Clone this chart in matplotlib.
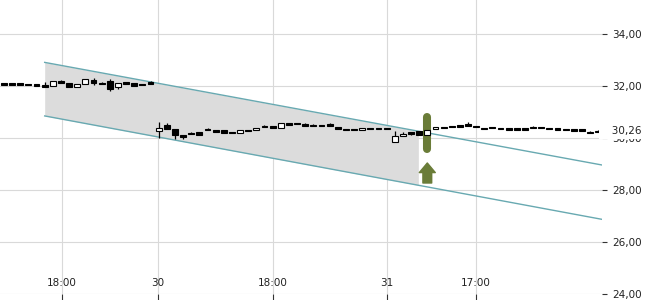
import numpy as np
import matplotlib
matplotlib.use('Agg')
import matplotlib.pyplot as plt

# candle data (one entry per candle, left to right)
opens = [32.08, 32.08, 32.08, 32.07, 32.07, 32.00, 32.00, 32.20, 32.10, 31.95, 32.08, 32.23, 32.10, 32.20, 31.95, 32.15, 32.10, 32.08, 32.14,
         30.26, 30.49, 30.33, 30.12, 30.18, 30.23, 30.33, 30.30, 30.30, 30.23, 30.18, 30.30, 30.30, 30.45, 30.45, 30.38, 30.54, 30.58, 30.53,
         30.49, 30.49, 30.53, 30.41, 30.33, 30.33, 30.30, 30.37, 30.37, 30.37,
         29.86, 30.07, 30.19, 30.26, 30.10, 30.33, 30.41, 30.45, 30.49, 30.53, 30.45, 30.38, 30.40, 30.40, 30.35, 30.35, 30.35, 30.40, 30.41,
         30.37, 30.35, 30.33, 30.33, 30.33, 30.22, 30.24]
closes = [32.08, 32.08, 32.06, 32.05, 32.02, 32.00, 32.18, 32.10, 31.95, 32.07, 32.26, 32.10, 32.10, 31.88, 32.10, 32.07, 32.00, 32.04, 32.06,
          30.38, 30.33, 30.10, 30.05, 30.18, 30.13, 30.33, 30.26, 30.18, 30.18, 30.30, 30.27, 30.38, 30.45, 30.38, 30.57, 30.54, 30.53, 30.45,
          30.49, 30.49, 30.45, 30.33, 30.33, 30.33, 30.37, 30.37, 30.37, 30.37,
          30.08, 30.17, 30.19, 30.10, 30.30, 30.41, 30.41, 30.45, 30.43, 30.45, 30.45, 30.37, 30.40, 30.35, 30.35, 30.35, 30.35, 30.40, 30.41,
          30.37, 30.35, 30.33, 30.29, 30.30, 30.22, 30.26]
highs = [32.08, 32.08, 32.08, 32.07, 32.07, 32.15, 32.18, 32.25, 32.10, 32.07, 32.26, 32.30, 32.16, 32.26, 32.10, 32.15, 32.10, 32.08, 32.18,
         30.62, 30.56, 30.33, 30.12, 30.22, 30.23, 30.37, 30.30, 30.30, 30.23, 30.30, 30.30, 30.38, 30.49, 30.45, 30.57, 30.58, 30.58, 30.58,
         30.53, 30.49, 30.57, 30.41, 30.33, 30.33, 30.37, 30.37, 30.37, 30.37,
         30.27, 30.23, 30.25, 30.26, 30.30, 30.41, 30.41, 30.45, 30.49, 30.60, 30.45, 30.40, 30.43, 30.40, 30.35, 30.35, 30.35, 30.45, 30.41,
         30.37, 30.35, 30.33, 30.33, 30.33, 30.27, 30.29]
lows = [32.08, 32.08, 32.06, 32.05, 32.02, 32.00, 32.00, 32.10, 31.95, 31.95, 32.08, 32.05, 32.10, 31.80, 31.90, 32.07, 32.00, 32.04, 32.06,
        30.00, 30.33, 29.97, 29.97, 30.18, 30.13, 30.33, 30.26, 30.18, 30.18, 30.18, 30.27, 30.30, 30.45, 30.38, 30.38, 30.54, 30.53, 30.45,
        30.49, 30.49, 30.45, 30.33, 30.33, 30.33, 30.30, 30.37, 30.37, 30.37,
        29.86, 30.07, 30.13, 30.10, 30.10, 30.33, 30.41, 30.45, 30.43, 30.45, 30.45, 30.37, 30.40, 30.35, 30.35, 30.35, 30.35, 30.40, 30.41,
        30.37, 30.35, 30.33, 30.29, 30.30, 30.22, 30.24]

# x axis labels (positions in candle index units)
tick_pos = [7.13, 18.92, 33.05, 47.05, 57.99]
tick_labels = ['18:00', '30', '18:00', '31', '17:00']

yticks = [24, 26, 28, 30, 32, 34]
last_price = 30.26

# trend channel
channel_x = [5.0, 73.5]
channel_upper = [32.91, 28.96]
channel_lower = [30.85, 26.87]
fill_end = 50.9

# signal
signal_idx = 52
signal_bar = [30.80, 29.58]
signal_arrow = [28.27, 29.04]

fig = plt.figure(figsize=(6.5, 3.0), dpi=100)
ax = fig.add_axes([0, 0.02, 602 / 650, 0.98])

x = np.arange(len(opens))
o = np.array(opens)
c = np.array(closes)

# channel fill + lines
fx = np.array([channel_x[0], fill_end])
ax.fill_between(fx, np.interp(fx, channel_x, channel_lower), np.interp(fx, channel_x, channel_upper),
                color='#dcdcdc', lw=0, zorder=1)
ax.plot(channel_x, channel_upper, color='#68a9b1', lw=1.0, zorder=2)
ax.plot(channel_x, channel_lower, color='#68a9b1', lw=1.0, zorder=2)

# green signal bar and arrow
ax.plot([signal_idx, signal_idx], signal_bar, color='#6a7c38', lw=5.8, solid_capstyle='round', zorder=3)
ax.annotate('', xy=(signal_idx, signal_arrow[1]), xytext=(signal_idx, signal_arrow[0]),
            arrowprops=dict(arrowstyle='simple,head_length=0.6,head_width=1.0,tail_width=0.55',
                            color='#6a7c38', shrinkA=0, shrinkB=0, mutation_scale=11.5), zorder=3)

# candles
ax.vlines(x, lows, highs, color='black', lw=0.9, zorder=4)
body_h = np.maximum(np.abs(c - o), 0.06)
body_b = np.where(np.abs(c - o) < 0.06, (o + c) / 2 - 0.03, np.minimum(o, c))
up = c > o + 0.001
ax.bar(x, body_h, width=0.72, bottom=body_b, color=np.where(up, 'white', 'black'),
       edgecolor='black', linewidth=0.8, zorder=5)

ax.set_xlim(-0.49, 73.46)
ax.set_ylim(24, 35.31)

ax.set_xticks(tick_pos)
ax.set_xticklabels([])
ax.tick_params(axis='x', direction='out', length=4, color='#333333', width=0.8)
for p, lab in zip(tick_pos, tick_labels):
    ax.text(p, 24.25, lab, ha='center', va='bottom', fontsize=7.5, color='#222222')

ax.yaxis.tick_right()
ax.set_yticks(yticks)
ax.set_yticklabels([('%.2f' % v).replace('.', ',') for v in yticks])
ax.tick_params(axis='y', direction='out', length=3.6, pad=3.5, labelsize=7.5, labelcolor='#222222',
               color='#333333', width=0.8)

# last price label sits on top of the 30,00 label
ax.text(1.0, last_price, '   ' + ('%.2f' % last_price).replace('.', ','), transform=ax.get_yaxis_transform(),
        ha='left', va='center', fontsize=7.5, color='#222222', clip_on=False, zorder=10,
        bbox=dict(facecolor='white', edgecolor='none', pad=2.0))

ax.grid(True, color='#d9d9d9', lw=0.8)
ax.set_axisbelow(True)
for s in ax.spines.values():
    s.set_visible(False)

fig.savefig('out.png', dpi=100)
